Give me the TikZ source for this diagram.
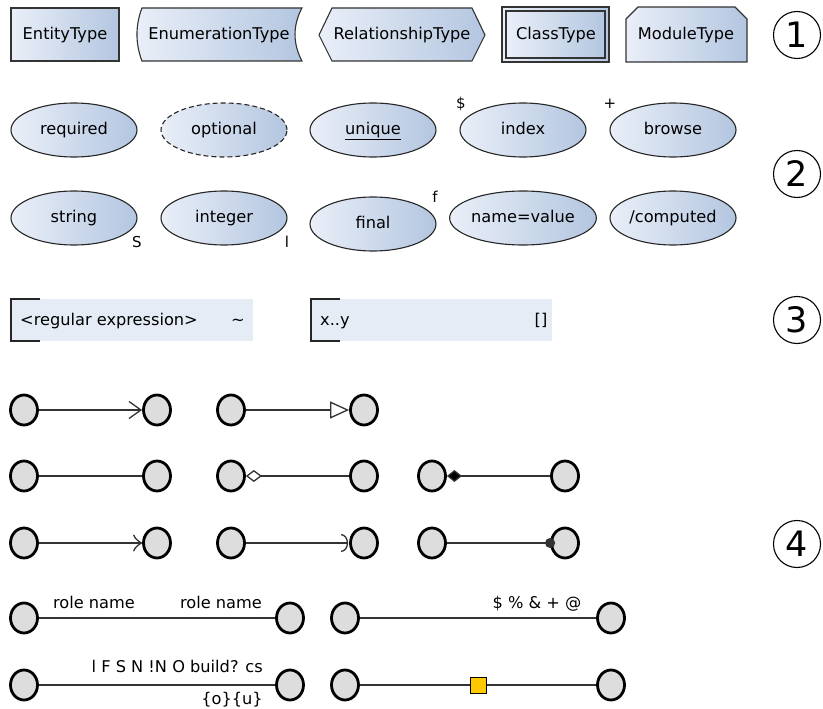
\documentclass[tikz,border=0pt]{standalone}
\usepackage{fontspec}
\setmainfont{DejaVu Sans}
\usetikzlibrary{arrows.meta,shapes.geometric}
\definecolor{lightblue}{HTML}{EAEFF8}
\definecolor{darkblue}{HTML}{B3C6E0}
\definecolor{flatblue}{HTML}{E6ECF6}
\definecolor{nodegray}{HTML}{DDDDDD}
\definecolor{gold}{HTML}{FFC800}
\definecolor{edgegray}{HTML}{333333}
\tikzset{
  typeshape/.style={draw=black!80, line width=1.1pt, left color=lightblue, right color=darkblue},
  lbl/.style={inner sep=0pt, text height=11.8pt, text depth=3.4pt, font=\fontsize{16.2}{19}\selectfont},
  small/.style={inner sep=0pt, font=\fontsize{15}{18}\selectfont},
  attr/.style={ellipse, draw=black!85, line width=1.1pt, left color=lightblue, right color=darkblue,
    minimum width=126pt, minimum height=54pt, inner sep=0pt, text height=11.8pt, text depth=3.4pt,
    font=\fontsize{16.2}{19}\selectfont},
  numcircle/.style={circle, draw, line width=1.1pt, minimum size=47pt, inner sep=0pt,
    font=\fontsize{35}{40}\selectfont},
  pt/.style={ellipse, draw=black, line width=2.8pt, fill=nodegray, minimum width=27pt, minimum height=30pt, inner sep=0pt},
  conn/.style={draw=edgegray, line width=1.3pt},
  bracketbox/.style={fill=flatblue, draw=none},
}
\begin{document}
\begin{tikzpicture}[x=1pt,y=-1pt]
\useasboundingbox (0,0) rectangle (823,709);

% ---------- row 1: types ----------
\draw[typeshape] (11,8) rectangle (119,61);
\node[lbl] (entity) at (65,35) {EntityType};

\draw[typeshape] (142,8) -- (302,8) .. controls (292.7,25) and (292.7,44) .. (302,61)
  -- (142,61) .. controls (135.3,44) and (135.3,25) .. (142,8) -- cycle;
\node[lbl] (enum) at (219,35) {EnumerationType};

\draw[typeshape] (319,35) -- (332,8) -- (472,8) -- (485,35) -- (472,61) -- (332,61) -- cycle;
\node[lbl] (rel) at (402,35) {RelationshipType};

\draw[typeshape] (502,7) rectangle (609,62);
\draw[typeshape] (506,11) rectangle (605,58);
\node[lbl] (class) at (556,35) {ClassType};

\draw[typeshape] (626,19) -- (638,7) -- (735,7) -- (747,19) -- (747,62) -- (626,62) -- cycle;
\node[lbl] (module) at (686,35) {ModuleType};

\node[numcircle] (n1) at (797,35) {1};

% ---------- row 2: attributes ----------
\node[attr] (required) at (74,130) {required};
\node[attr, dash pattern=on 5pt off 3pt] (optional) at (224,130) {optional};
\node[attr] (unique) at (373,130) {\underline{unique}};
\node[attr] (index) at (523,130) {index};
\node[attr] (browse) at (673,130) {browse};
\node[small] (dollar) at (461,104) {\$};
\node[small] (plus) at (610,104) {+};

\node[attr] (string) at (74,218) {string};
\node[attr] (integer) at (224,218) {integer};
\node[attr] (final) at (373,224) {final};
\node[attr] (namevalue) at (523,218) {name=value};
\node[attr] (computed) at (673,218) {/computed};
\node[small] (sS) at (137,242) {S};
\node[small] (sl) at (287,242) {l};
\node[small] (sf) at (435,197) {f};

\node[numcircle] (n2) at (797,174) {2};

% ---------- row 3: value boxes ----------
\fill[bracketbox] (11,299) rectangle (253,341);
\draw[line width=1.1pt, draw=black!85] (40,299) -- (11,299) -- (11,341) -- (40,341);
\node[lbl, anchor=west] (regex) at (20,321) {<regular expression>};
\node[lbl] (tilde) at (238,321) {\char`\~};

\fill[bracketbox] (311,299) rectangle (552,341);
\draw[line width=1.1pt, draw=black!85] (340,299) -- (311,299) -- (311,341) -- (340,341);
\node[lbl, anchor=west] (range) at (320,321) {x..y};
\node[lbl] (brackets) at (541,321) {[]};

\node[numcircle] (n3) at (797,320) {3};

% ---------- row 4: connectors ----------
\node[pt] (a1) at (24,410) {};
\node[pt] (b1) at (157,410) {};
\draw[conn, -{Straight Barb[length=12pt,width=17pt,line width=1.3pt]}] (a1) -- (b1);
\node[pt] (a2) at (231,410) {};
\node[pt] (b2) at (364,410) {};
\draw[conn, -{Triangle[open,fill=white,length=19pt,width=17pt]}] (a2) -- (b2);

\node[pt] (c1) at (24,476) {};
\node[pt] (d1) at (157,476) {};
\draw[conn] (c1) -- (d1);
\node[pt] (c2) at (231,476) {};
\node[pt] (d2) at (364,476) {};
\draw[conn, {Diamond[open,fill=white,length=16pt,width=12pt]}-] (c2) -- (d2);
\node[pt] (c3) at (432,476) {};
\node[pt] (d3) at (565,476) {};
\draw[conn, {Diamond[fill=black,length=15pt,width=12pt]}-] (c3) -- (d3);

\node[pt] (e1) at (24,543) {};
\node[pt] (f1) at (157,543) {};
\draw[conn, -{Classical TikZ Rightarrow[length=9pt,width=17pt,line width=1.3pt]}] (e1) -- (f1);
\node[pt] (e2) at (231,543) {};
\node[pt] (f2) at (364,543) {};
\draw[conn, -{Arc Barb[length=7pt,width=18pt,line width=1.3pt]}, shorten >=1pt] (e2) -- (f2);
\node[pt] (e3) at (432,543) {};
\node[pt] (f3) at (565,543) {};
\draw[conn, -{Circle[length=10pt]}, shorten >=-5pt] (e3) -- (f3);

\node[numcircle] (n4) at (797,544) {4};

% ---------- row 5/6: labelled connectors ----------
\node[pt] (g1) at (24,618) {};
\node[pt] (h1) at (290,618) {};
\draw[conn] (g1) -- (h1);
\node[lbl] (role1) at (94,604) {role name};
\node[lbl] (role2) at (221,604) {role name};

\node[pt] (g2) at (345,618) {};
\node[pt] (h2) at (611,618) {};
\draw[conn] (g2) -- (h2);
\node[lbl] (syms) at (537,604) {\$ \% \& + @};

\node[pt] (i1) at (24,685) {};
\node[pt] (j1) at (290,685) {};
\draw[conn] (i1) -- (j1);
\node[lbl, anchor=east] (flags) at (263,668) {l F S N !N O build? cs};
\node[lbl, anchor=east] (ou) at (263,700) {\{o\}\{u\}};

\node[pt] (i2) at (345,685) {};
\node[pt] (j2) at (611,685) {};
\node[draw=black, line width=1pt, fill=gold, minimum size=16pt, inner sep=0pt] (sq) at (478,685) {};
\draw[conn] (i2) -- (sq);
\draw[conn] (sq) -- (j2);
\end{tikzpicture}
\end{document}
